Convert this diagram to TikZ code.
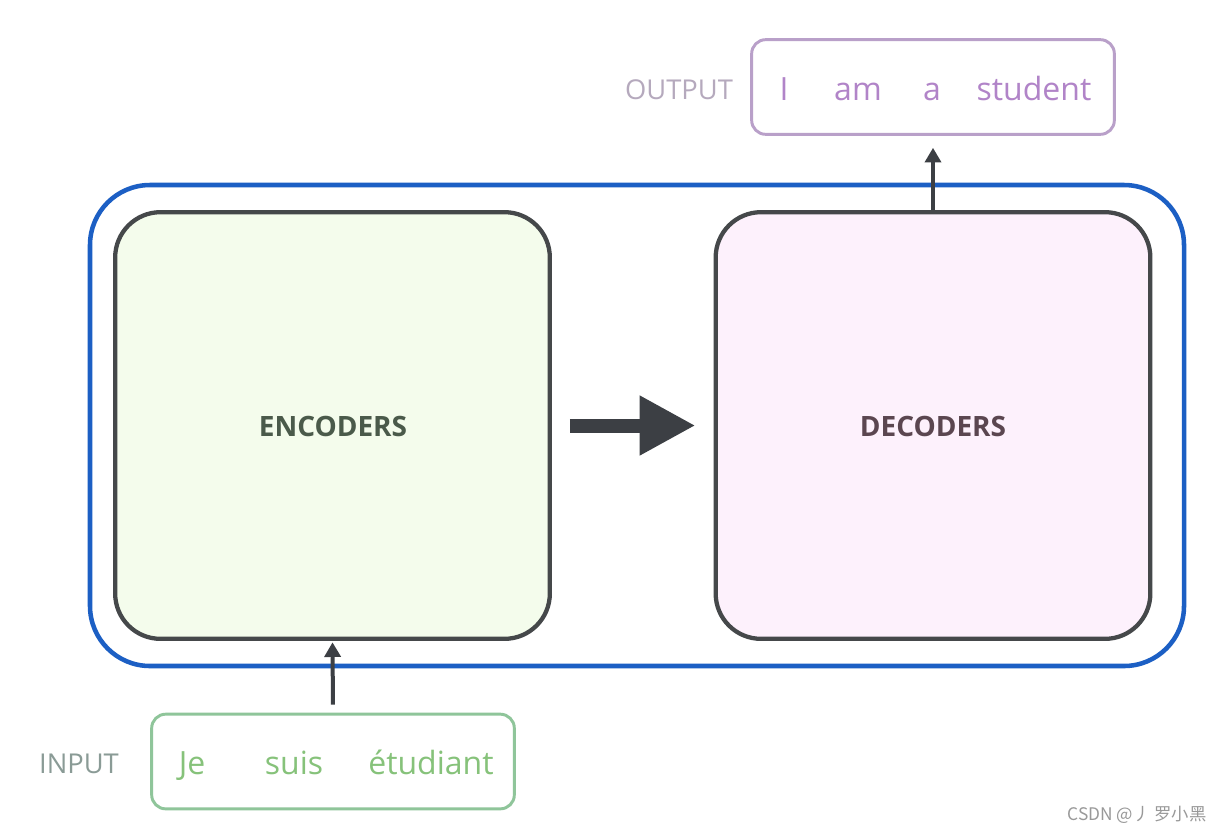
\documentclass[tikz,border=0pt]{standalone}
\usepackage{fontspec}
\setmainfont{Open Sans}
\newfontfamily\cjk{Noto Sans CJK SC}
\usetikzlibrary{arrows.meta,calc}
\definecolor{outerblue}{HTML}{1C5FC4}
\definecolor{boxgray}{HTML}{45484A}
\definecolor{encfill}{HTML}{F4FCEC}
\definecolor{decfill}{HTML}{FDF1FC}
\definecolor{enctext}{HTML}{4A5A4A}
\definecolor{dectext}{HTML}{5B4650}
\definecolor{outline}{HTML}{B9A0C9}
\definecolor{outword}{HTML}{B184C8}
\definecolor{outlabel}{HTML}{B5A9BD}
\definecolor{inline}{HTML}{8FC59A}
\definecolor{inword}{HTML}{86C27A}
\definecolor{inlabel}{HTML}{8A9B96}
\definecolor{arrowgray}{HTML}{3C3F44}
\tikzset{
  bigbox/.style={draw=boxgray, line width=3.2pt, rounded corners=34pt, minimum width=326pt, minimum height=320pt, inner sep=0pt},
  wordbox/.style={line width=2.2pt, rounded corners=10.5pt, minimum width=272pt, minimum height=71pt, inner sep=0pt},
  boxlabel/.style={font=\fontsize{21}{24}\selectfont\bfseries},
  word/.style={font=\fontsize{24}{28}\selectfont, anchor=base, inner sep=0pt},
  sidelabel/.style={font=\fontsize{20.5}{24}\selectfont, anchor=base, inner sep=0pt},
  uparrow/.style={draw=arrowgray, line width=3pt, -{Triangle[length=11pt,width=12pt]}},
}
\begin{document}
\begin{tikzpicture}[x=0.75pt,y=-0.75pt]
\useasboundingbox (0,0) rectangle (1220,833);
\fill[white] (0,0) rectangle (1220,833);
% outer container
\node[draw=outerblue, line width=3.4pt, rounded corners=45pt, minimum width=820.5pt, minimum height=360.75pt, inner sep=0pt] (outer) at (637,425.5) {};
% encoder and decoder
\node[bigbox, fill=encfill] (enc) at (332.5,425.5) {};
\node[bigbox, fill=decfill] (dec) at (933,425.5) {};
\node[boxlabel, text=enctext] (enclabel) at (333,426) {ENCODERS};
\node[boxlabel, text=dectext] (declabel) at (933,426) {DECODERS};
% big arrow
\draw[arrowgray, line width=10.5pt, -{Triangle[length=42pt,width=42pt]}] ($(enc.east)+(18,0)$) -- ($(dec.west)+(-18,0)$);
% output
\node[wordbox, draw=outline] (out) at (933,87) {};
\node[sidelabel, text=outlabel] (outlab) at (679,99) {OUTPUT};
\node[word, text=outword] (w1) at (784,100) {I};
\node[word, text=outword] (w2) at (858,100) {am};
\node[word, text=outword] (w3) at (932,100) {a};
\node[word, text=outword] (w4) at (1034,100) {student};
% input
\node[wordbox, draw=inline] (in) at (333,761.5) {};
\node[sidelabel, text=inlabel] (inlab) at (79,773) {INPUT};
\node[word, text=inword] (v1) at (192,774) {Je};
\node[word, text=inword] (v2) at (294,774) {suis};
\node[word, text=inword] (v3) at (431,774) {étudiant};
% vertical arrows
\draw[uparrow, shorten >=9pt] (dec.north) -- (out.south);
\draw[uparrow, shorten <=6pt, shorten >=1pt] (in.north) -- (enc.south);
% watermark
\node[font=\cjk\fontsize{13}{15}\selectfont, text=gray!80] (wm) at (1137,815) {CSDN @丿 罗小黑};
\end{tikzpicture}
\end{document}
